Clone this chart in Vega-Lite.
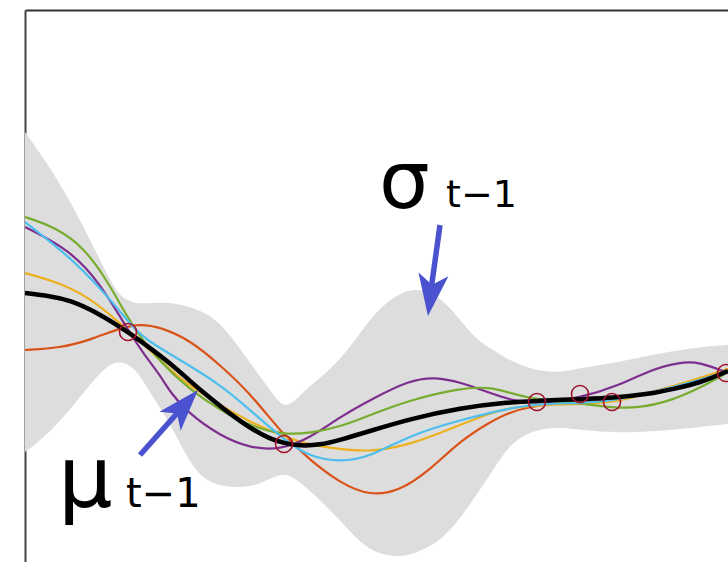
{
  "$schema": "https://vega.github.io/schema/vega-lite/v6.json",
  "width": 703,
  "height": 552,
  "autosize": {"type": "none"},
  "padding": {"left": 25, "top": 10, "right": 0, "bottom": 0},
  "background": "white",
  "config": {"view": {"stroke": null}},
  "datasets": {
    "band": [
      {"x": 0, "hi": 430, "lo": 110},
      {"x": 20, "hi": 402, "lo": 125},
      {"x": 45, "hi": 362, "lo": 152},
      {"x": 70, "hi": 312, "lo": 184},
      {"x": 85, "hi": 282, "lo": 198},
      {"x": 95, "hi": 265, "lo": 201},
      {"x": 110, "hi": 258, "lo": 195},
      {"x": 125, "hi": 259, "lo": 169},
      {"x": 145, "hi": 260, "lo": 140},
      {"x": 170, "hi": 254, "lo": 87},
      {"x": 195, "hi": 242, "lo": 75},
      {"x": 225, "hi": 199, "lo": 74},
      {"x": 245, "hi": 172, "lo": 83},
      {"x": 260, "hi": 151, "lo": 90},
      {"x": 275, "hi": 167, "lo": 80},
      {"x": 295, "hi": 184, "lo": 62},
      {"x": 315, "hi": 202, "lo": 42},
      {"x": 335, "hi": 229, "lo": 19},
      {"x": 355, "hi": 255, "lo": 7},
      {"x": 375, "hi": 269, "lo": 5},
      {"x": 390, "hi": 273, "lo": 9},
      {"x": 405, "hi": 271, "lo": 15},
      {"x": 425, "hi": 256, "lo": 30},
      {"x": 448, "hi": 225, "lo": 62},
      {"x": 465, "hi": 214, "lo": 87},
      {"x": 485, "hi": 201, "lo": 119},
      {"x": 508, "hi": 192, "lo": 132},
      {"x": 535, "hi": 189, "lo": 135},
      {"x": 555, "hi": 194, "lo": 132},
      {"x": 595, "hi": 200, "lo": 129},
      {"x": 635, "hi": 209, "lo": 131},
      {"x": 675, "hi": 215, "lo": 135},
      {"x": 703, "hi": 217, "lo": 138}
    ],
    "samples": [
      {"s": "a", "x": 0, "y": 212}, {"s": "a", "x": 35, "y": 214}, {"s": "a", "x": 65, "y": 222}, {"s": "a", "x": 95, "y": 234}, {"s": "a", "x": 115, "y": 238}, {"s": "a", "x": 135, "y": 235}, {"s": "a", "x": 165, "y": 222}, {"s": "a", "x": 195, "y": 197}, {"s": "a", "x": 225, "y": 169}, {"s": "a", "x": 259, "y": 126}, {"s": "a", "x": 285, "y": 102}, {"s": "a", "x": 315, "y": 79}, {"s": "a", "x": 345, "y": 66}, {"s": "a", "x": 375, "y": 71}, {"s": "a", "x": 405, "y": 92}, {"s": "a", "x": 435, "y": 121}, {"s": "a", "x": 465, "y": 140}, {"s": "a", "x": 485, "y": 150}, {"s": "a", "x": 512, "y": 157}, {"s": "a", "x": 555, "y": 161}, {"s": "a", "x": 587, "y": 162}, {"s": "a", "x": 625, "y": 169}, {"s": "a", "x": 665, "y": 180}, {"s": "a", "x": 703, "y": 193},
      {"s": "b", "x": 0, "y": 289}, {"s": "b", "x": 35, "y": 279}, {"s": "b", "x": 65, "y": 264}, {"s": "b", "x": 95, "y": 239}, {"s": "b", "x": 125, "y": 212}, {"s": "b", "x": 155, "y": 182}, {"s": "b", "x": 195, "y": 157}, {"s": "b", "x": 225, "y": 140}, {"s": "b", "x": 259, "y": 125}, {"s": "b", "x": 285, "y": 117}, {"s": "b", "x": 315, "y": 113}, {"s": "b", "x": 345, "y": 110}, {"s": "b", "x": 382, "y": 117}, {"s": "b", "x": 405, "y": 125}, {"s": "b", "x": 435, "y": 137}, {"s": "b", "x": 465, "y": 149}, {"s": "b", "x": 485, "y": 154}, {"s": "b", "x": 512, "y": 157}, {"s": "b", "x": 555, "y": 158}, {"s": "b", "x": 587, "y": 159}, {"s": "b", "x": 625, "y": 169}, {"s": "b", "x": 665, "y": 181}, {"s": "b", "x": 703, "y": 193},
      {"s": "c", "x": 0, "y": 335}, {"s": "c", "x": 45, "y": 312}, {"s": "c", "x": 75, "y": 279}, {"s": "c", "x": 103, "y": 232}, {"s": "c", "x": 118, "y": 209}, {"s": "c", "x": 135, "y": 187}, {"s": "c", "x": 145, "y": 170}, {"s": "c", "x": 162, "y": 150}, {"s": "c", "x": 195, "y": 126}, {"s": "c", "x": 225, "y": 114}, {"s": "c", "x": 255, "y": 112}, {"s": "c", "x": 285, "y": 124}, {"s": "c", "x": 315, "y": 145}, {"s": "c", "x": 345, "y": 162}, {"s": "c", "x": 385, "y": 182}, {"s": "c", "x": 410, "y": 185}, {"s": "c", "x": 435, "y": 180}, {"s": "c", "x": 465, "y": 169}, {"s": "c", "x": 485, "y": 162}, {"s": "c", "x": 512, "y": 158}, {"s": "c", "x": 555, "y": 164}, {"s": "c", "x": 595, "y": 177}, {"s": "c", "x": 625, "y": 192}, {"s": "c", "x": 655, "y": 200}, {"s": "c", "x": 675, "y": 200}, {"s": "c", "x": 703, "y": 189},
      {"s": "d", "x": 0, "y": 345}, {"s": "d", "x": 30, "y": 335}, {"s": "d", "x": 60, "y": 314}, {"s": "d", "x": 85, "y": 277}, {"s": "d", "x": 108, "y": 234}, {"s": "d", "x": 135, "y": 200}, {"s": "d", "x": 165, "y": 172}, {"s": "d", "x": 195, "y": 152}, {"s": "d", "x": 225, "y": 136}, {"s": "d", "x": 259, "y": 127}, {"s": "d", "x": 285, "y": 129}, {"s": "d", "x": 315, "y": 135}, {"s": "d", "x": 345, "y": 147}, {"s": "d", "x": 385, "y": 162}, {"s": "d", "x": 435, "y": 174}, {"s": "d", "x": 465, "y": 175}, {"s": "d", "x": 485, "y": 169}, {"s": "d", "x": 512, "y": 162}, {"s": "d", "x": 555, "y": 159}, {"s": "d", "x": 587, "y": 154}, {"s": "d", "x": 615, "y": 154}, {"s": "d", "x": 648, "y": 162}, {"s": "d", "x": 675, "y": 174}, {"s": "d", "x": 703, "y": 190},
      {"s": "e", "x": 0, "y": 340}, {"s": "e", "x": 45, "y": 305}, {"s": "e", "x": 75, "y": 274}, {"s": "e", "x": 95, "y": 251}, {"s": "e", "x": 110, "y": 232}, {"s": "e", "x": 125, "y": 220}, {"s": "e", "x": 145, "y": 208}, {"s": "e", "x": 195, "y": 178}, {"s": "e", "x": 225, "y": 152}, {"s": "e", "x": 259, "y": 122}, {"s": "e", "x": 285, "y": 105}, {"s": "e", "x": 315, "y": 100}, {"s": "e", "x": 345, "y": 105}, {"s": "e", "x": 385, "y": 127}, {"s": "e", "x": 435, "y": 142}, {"s": "e", "x": 485, "y": 154}, {"s": "e", "x": 512, "y": 158}, {"s": "e", "x": 555, "y": 159}, {"s": "e", "x": 587, "y": 161}, {"s": "e", "x": 625, "y": 169}, {"s": "e", "x": 665, "y": 179}, {"s": "e", "x": 703, "y": 191}
    ],
    "mean": [
      {"x": 0, "y": 269}, {"x": 25, "y": 266}, {"x": 45, "y": 262}, {"x": 75, "y": 248}, {"x": 103, "y": 230}, {"x": 125, "y": 214}, {"x": 145, "y": 199}, {"x": 165, "y": 181}, {"x": 185, "y": 164}, {"x": 205, "y": 148}, {"x": 225, "y": 134}, {"x": 245, "y": 123}, {"x": 259, "y": 119}, {"x": 275, "y": 116}, {"x": 295, "y": 117}, {"x": 315, "y": 122}, {"x": 345, "y": 131}, {"x": 385, "y": 143}, {"x": 435, "y": 154}, {"x": 485, "y": 160}, {"x": 512, "y": 161}, {"x": 555, "y": 163}, {"x": 587, "y": 164}, {"x": 625, "y": 168}, {"x": 648, "y": 173}, {"x": 675, "y": 179}, {"x": 703, "y": 191}
    ],
    "obs": [
      {"x": 103, "y": 230}, {"x": 259, "y": 118}, {"x": 512, "y": 160}, {"x": 555, "y": 168}, {"x": 587, "y": 160}, {"x": 701, "y": 189}
    ],
    "shafts": [
      {"x": 415, "y": 337, "x2": 406, "y2": 272},
      {"x": 115, "y": 107, "x2": 163, "y2": 161}
    ],
    "headSigma": [{"x": 405.7, "y": 266.8}],
    "headMu": [{"x": 159, "y": 156.3}],
    "labSigma": [{"x": 354, "y": 354, "t": "σ"}],
    "subSigma": [{"x": 421, "y": 355, "t": "t−1"}],
    "labMu": [{"x": 33, "y": 55, "t": "μ"}],
    "subMu": [{"x": 101, "y": 55, "t": "t−1"}]
  },
  "layer": [
    {
      "data": {"name": "band"},
      "mark": {"type": "area", "interpolate": "basis", "color": "#dddddd", "clip": true},
      "encoding": {
        "x": {"field": "x", "type": "quantitative", "title": null, "scale": {"domain": [0, 703], "nice": false, "zero": false}, "axis": {"orient": "top", "ticks": false, "labels": false, "grid": false, "domainColor": "#333333", "domainWidth": 2}},
        "y": {"field": "hi", "type": "quantitative", "title": null, "scale": {"domain": [0, 552], "nice": false, "zero": false}, "axis": {"orient": "left", "ticks": false, "labels": false, "grid": false, "domainColor": "#444444", "domainWidth": 2}},
        "y2": {"field": "lo"}
      }
    },
    {
      "data": {"name": "samples"},
      "mark": {"type": "line", "interpolate": "basis", "strokeWidth": 2.2, "clip": true},
      "encoding": {
        "x": {"field": "x", "type": "quantitative"},
        "y": {"field": "y", "type": "quantitative"},
        "color": {"field": "s", "type": "nominal", "legend": null, "scale": {"domain": ["a", "b", "c", "d", "e"], "range": ["#D95319", "#EDB120", "#7E2F8E", "#77AC30", "#4DBEEE"]}}
      }
    },
    {
      "data": {"name": "mean"},
      "mark": {"type": "line", "interpolate": "basis", "strokeWidth": 4.5, "color": "#000000", "clip": true},
      "encoding": {
        "x": {"field": "x", "type": "quantitative"},
        "y": {"field": "y", "type": "quantitative"}
      }
    },
    {
      "data": {"name": "obs"},
      "mark": {"type": "point", "shape": "circle", "filled": false, "size": 289, "stroke": "#A2142F", "strokeWidth": 1.6, "opacity": 1, "clip": true},
      "encoding": {
        "x": {"field": "x", "type": "quantitative"},
        "y": {"field": "y", "type": "quantitative"}
      }
    },
    {
      "data": {"name": "shafts"},
      "mark": {"type": "rule", "color": "#4a52cf", "strokeWidth": 5.5},
      "encoding": {
        "x": {"field": "x", "type": "quantitative"},
        "y": {"field": "y", "type": "quantitative"},
        "x2": {"field": "x2"},
        "y2": {"field": "y2"}
      }
    },
    {
      "data": {"name": "headSigma"},
      "mark": {"type": "point", "shape": "M0,1L-0.72,-1L0,-0.5L0.72,-1Z", "filled": true, "size": 1764, "color": "#4a52cf", "opacity": 1, "angle": 7.5},
      "encoding": {
        "x": {"field": "x", "type": "quantitative"},
        "y": {"field": "y", "type": "quantitative"}
      }
    },
    {
      "data": {"name": "headMu"},
      "mark": {"type": "point", "shape": "M0,1L-0.68,-1L0,-0.5L0.68,-1Z", "filled": true, "size": 1764, "color": "#4a52cf", "opacity": 1, "angle": 221.8},
      "encoding": {
        "x": {"field": "x", "type": "quantitative"},
        "y": {"field": "y", "type": "quantitative"}
      }
    },
    {
      "data": {"name": "labSigma"},
      "mark": {"type": "text", "font": "DejaVu Sans", "fontSize": 80, "align": "left", "baseline": "alphabetic", "color": "#000000"},
      "encoding": {
        "x": {"field": "x", "type": "quantitative"},
        "y": {"field": "y", "type": "quantitative"},
        "text": {"field": "t"}
      }
    },
    {
      "data": {"name": "subSigma"},
      "mark": {"type": "text", "font": "DejaVu Sans", "fontSize": 38, "align": "left", "baseline": "alphabetic", "color": "#000000"},
      "encoding": {
        "x": {"field": "x", "type": "quantitative"},
        "y": {"field": "y", "type": "quantitative"},
        "text": {"field": "t"}
      }
    },
    {
      "data": {"name": "labMu"},
      "mark": {"type": "text", "font": "DejaVu Sans", "fontSize": 86, "align": "left", "baseline": "alphabetic", "color": "#000000"},
      "encoding": {
        "x": {"field": "x", "type": "quantitative"},
        "y": {"field": "y", "type": "quantitative"},
        "text": {"field": "t"}
      }
    },
    {
      "data": {"name": "subMu"},
      "mark": {"type": "text", "font": "DejaVu Sans", "fontSize": 40, "align": "left", "baseline": "alphabetic", "color": "#000000"},
      "encoding": {
        "x": {"field": "x", "type": "quantitative"},
        "y": {"field": "y", "type": "quantitative"},
        "text": {"field": "t"}
      }
    }
  ]
}
